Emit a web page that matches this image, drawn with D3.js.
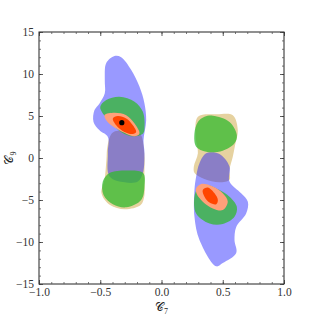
<!DOCTYPE html>
<html><head><meta charset="utf-8">
<script src="https://cdn.jsdelivr.net/npm/d3@7"></script>
<style>body{margin:0;background:#fff}svg{display:block}text{font-family:"Liberation Serif","DejaVu Serif",serif}</style>
</head><body>
<script>
// x ticks / y ticks
const xTicks = [-1.0, -0.5, 0.0, 0.5, 1.0];
const yTicks = [-15, -10, -5, 0, 5, 10, 15];
const xLabel = "C7", yLabel = "C9";

// Region outlines in data coordinates [C7, C9]
const tanLeft = [[-0.40,3.0],[-0.30,3.3],[-0.18,3.0],[-0.14,0.5],[-0.14,-2.0],[-0.14,-4.5],[-0.17,-5.6],[-0.30,-6.1],[-0.42,-5.6],[-0.49,-4.2],[-0.465,-2.6],[-0.45,-0.3],[-0.44,1.5]];
const tanRight = [[0.297,4.9],[0.45,5.2],[0.582,5.1],[0.623,3.3],[0.60,1.5],[0.582,0.15],[0.555,-1.4],[0.555,-2.6],[0.473,-2.9],[0.35,-2.5],[0.27,-1.8],[0.264,-1.0],[0.297,0.56],[0.28,2.5]];
const blueLeft = [[-0.384,12.14],[-0.329,12.0],[-0.248,10.5],[-0.18,8.5],[-0.139,6.5],[-0.125,4.5],[-0.147,2.1],[-0.139,0.56],[-0.152,-1.8],[-0.193,-2.8],[-0.30,-2.9],[-0.424,-2.2],[-0.438,0.56],[-0.438,2.5],[-0.506,3.3],[-0.555,4.3],[-0.547,5.7],[-0.506,6.5],[-0.463,7.7],[-0.463,9.3],[-0.451,11.3]];
const blueRight = [[0.365,0.56],[0.473,0.48],[0.555,-1.0],[0.555,-2.8],[0.65,-4.2],[0.705,-5.2],[0.691,-6.6],[0.61,-8.2],[0.596,-9.8],[0.61,-11.3],[0.5,-12.5],[0.447,-12.9],[0.31,-9.76],[0.269,-7.0],[0.269,-3.8],[0.283,-2.2],[0.31,-0.63]];
const greenLeftUp = [[-0.343,7.3],[-0.22,6.7],[-0.152,5.5],[-0.139,3.5],[-0.152,2.9],[-0.25,2.6],[-0.35,3.3],[-0.424,4.5],[-0.479,5.3],[-0.50,6.1],[-0.451,6.9]];
const greenLeftLow = [[-0.479,-2.8],[-0.424,-1.8],[-0.288,-1.5],[-0.15,-1.8],[-0.139,-3.4],[-0.166,-5.0],[-0.288,-5.87],[-0.397,-5.5],[-0.473,-4.4]];
const greenRightUp = [[0.419,5.04],[0.555,4.3],[0.615,2.74],[0.596,1.75],[0.5,0.87],[0.365,0.75],[0.283,1.35],[0.269,2.94],[0.297,4.3],[0.351,4.9]];
const greenRightLow = [[0.269,-4.6],[0.283,-6.6],[0.392,-7.8],[0.5,-7.86],[0.596,-7.0],[0.615,-5.8],[0.555,-4.6],[0.473,-3.8],[0.365,-3.2],[0.297,-3.6]];
const salmonLeft = [[-0.465,5.12],[-0.384,5.4],[-0.288,5.1],[-0.22,4.1],[-0.18,2.9],[-0.22,2.6],[-0.288,2.9],[-0.41,3.9],[-0.451,4.5]];
const redLeft = [[-0.397,4.7],[-0.357,5.0],[-0.288,4.7],[-0.234,3.9],[-0.207,3.1],[-0.234,2.86],[-0.302,3.1],[-0.37,3.9]];
const salmonRight = [[0.283,-3.6],[0.324,-3.1],[0.419,-3.4],[0.5,-4.2],[0.541,-5.2],[0.5,-6.2],[0.419,-6.0],[0.337,-5.2],[0.288,-4.3]];
const redRight = [[0.337,-3.8],[0.378,-3.5],[0.433,-4.2],[0.46,-5.0],[0.447,-5.5],[0.392,-5.3],[0.351,-4.6]];
const bestFit = [[-0.324, 4.2]];

const W = 316, H = 316;
const m = {l:39, r:32, t:32, b:32};
const svg = d3.select("body").append("svg").attr("width", W).attr("height", H);
const x = d3.scaleLinear().domain([-1, 1]).range([m.l, W - m.r]);
const y = d3.scaleLinear().domain([-15, 15]).range([H - m.b, m.t]);

const line = d3.line().x(d => x(d[0])).y(d => y(d[1])).curve(d3.curveCatmullRomClosed.alpha(0.5));
const layers = [
  [tanLeft, "rgb(230,210,160)", 1], [tanRight, "rgb(230,210,160)", 1],
  [blueLeft, "rgb(0,0,255)", 0.4], [blueRight, "rgb(0,0,255)", 0.4],
  [greenLeftUp, "rgb(50,185,45)", 0.75], [greenLeftLow, "rgb(50,185,45)", 0.75],
  [greenRightUp, "rgb(50,185,45)", 0.75], [greenRightLow, "rgb(50,185,45)", 0.75],
  [salmonLeft, "#ffa07a", 1], [salmonRight, "#ffa07a", 1],
  [redLeft, "#ff4500", 1], [redRight, "#ff4500", 1]
];
const plot = svg.append("g");
layers.forEach(([pts, c, a]) => plot.append("path").attr("d", line(pts)).attr("fill", c).attr("fill-opacity", a));
plot.selectAll("circle").data(bestFit).join("circle").attr("cx", d => x(d[0])).attr("cy", d => y(d[1])).attr("r", 2.6).attr("fill", "#000");

// frame
svg.append("rect").attr("x", x(-1)).attr("y", y(15)).attr("width", x(1) - x(-1)).attr("height", y(-15) - y(15))
  .attr("fill", "none").attr("stroke", "#222").attr("stroke-width", 1);

// axes with inward ticks
const fmtX = d => (d < 0 ? "\u2212" : "") + Math.abs(d).toFixed(1);
const fmtY = d => (d < 0 ? "\u2212" : "") + Math.abs(d);
const xMinor = d3.range(-10, 11).map(i => i / 10);
const yMinor = d3.range(-15, 16);
function ticksAxis(axis, pos, vals, size, col) {
  const g = svg.append("g").attr("transform", pos);
  g.call(axis.tickValues(vals).tickSize(size).tickFormat(""));
  g.select(".domain").remove();
  g.selectAll("line").attr("stroke", col).attr("stroke-width", 0.8);
}
[[xMinor, 2, "#555"], [null, 4, "#333"]].forEach(([mv, s, c]) => {
  ticksAxis(d3.axisTop(x), `translate(0,${y(-15)})`, mv || xTicks, s, c);
  ticksAxis(d3.axisBottom(x), `translate(0,${y(15)})`, mv || xTicks, s, c);
  ticksAxis(d3.axisRight(y), `translate(${x(-1)},0)`, mv ? yMinor : yTicks, s, c);
  ticksAxis(d3.axisLeft(y), `translate(${x(1)},0)`, mv ? yMinor : yTicks, s, c);
});
// labels
const gx = svg.append("g").attr("transform", `translate(0,${y(-15)})`)
  .call(d3.axisBottom(x).tickValues(xTicks).tickSize(0).tickPadding(4).tickFormat(fmtX));
gx.select(".domain").remove();
gx.selectAll("text").attr("font-family", "Liberation Serif, serif").attr("font-size", 11.5).attr("fill", "#333");
const gy = svg.append("g").attr("transform", `translate(${x(-1)},0)`)
  .call(d3.axisLeft(y).tickValues(yTicks).tickSize(0).tickPadding(5).tickFormat(fmtY));
gy.select(".domain").remove();
gy.selectAll("text").attr("font-family", "Liberation Serif, serif").attr("font-size", 11.5).attr("fill", "#333");

// axis titles
const xt = svg.append("text").attr("x", x(0)).attr("y", 311).attr("text-anchor", "middle").attr("font-size", 12).attr("fill", "#222");
xt.append("tspan").text("\uD835\uDC9E");
xt.append("tspan").attr("font-size", 8).attr("dy", 3).text(xLabel.slice(1));
const yt = svg.append("text").attr("transform", `translate(13,${y(0)}) rotate(-90)`).attr("text-anchor", "middle").attr("font-size", 12).attr("fill", "#222");
yt.append("tspan").text("\uD835\uDC9E");
yt.append("tspan").attr("font-size", 8).attr("dy", 3).text(yLabel.slice(1));
</script>
</body></html>
